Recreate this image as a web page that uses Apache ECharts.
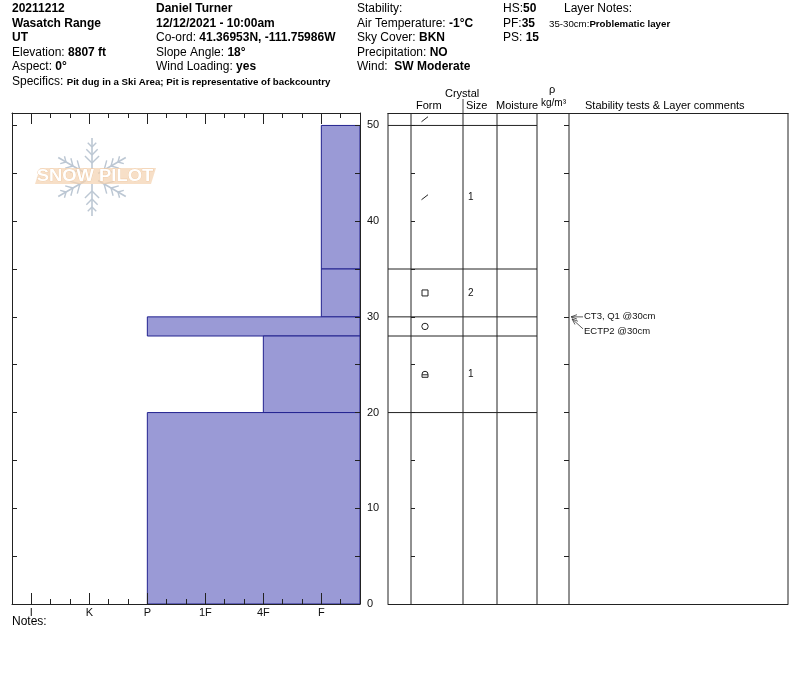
<!DOCTYPE html>
<html><head><meta charset="utf-8">
<script src="https://cdn.jsdelivr.net/npm/echarts@6/dist/echarts.min.js"></script>
<style>html,body{margin:0;padding:0;background:#fff}#c{width:800px;height:676px}</style>
</head><body><div id="c"></div>
<script>
// ---- data ----
const hardnessLabels = ['I','K','P','1F','4F','F'];
const hardnessTicks = [1,4,7,10,13,16];
const hardnessMinorTicks = [2,3,5,6,8,9,11,12,14,15,17];
const hardMax = 18;
const HS = 50;
const depthMax = 51.3;
const layerTop = [50,35,30,28,20];
const layerBottom = [35,30,28,20,0];
const layerHardness = ['F','F','P','4F','P'];
const layerForm = ['DF','FC','RG','FCxr',''];
const layerSize = ['1','2','','1',''];
const surfaceForm = 'DF';
const testDepth = [30,30];
const testLabel = ['CT3, Q1 @30cm','ECTP2 @30cm'];
const col1 = ['{b|20211212}','{b|Wasatch Range}','{b|UT}','Elevation: {b|8807 ft}','Aspect: {b|0°}'];
const col2 = ['{b|Daniel Turner}','{b|12/12/2021 - 10:00am}','Co-ord: {b|41.36953N, -111.75986W}','Slope Angle: {b|18°}','Wind Loading: {b|yes}'];
const col3 = ['Stability:','Air Temperature: {b|-1°C}','Sky Cover: {b|BKN}','Precipitation: {b|NO}','Wind:  {b|SW Moderate}'];
const col4 = ['HS:{b|50}','PF:{b|35}','PS: {b|15}'];
const specifics = 'Pit dug in a Ski Area; Pit is representative of backcountry';
const layerNote = ['35-30cm:','Problematic layer'];
const tableHeads = ['Form','Size','Moisture','Stability tests & Layer comments'];

// ---- layout ----
const FONT = '"Liberation Sans", Arial, sans-serif';
const tableCols = [0,23,75,109,149,181,400];
const LINE = '#222';

const chart = echarts.init(document.getElementById('c'));

function hardPos(h){ return hardnessTicks[hardnessLabels.indexOf(h)]; }

const barData = layerTop.map((t,i)=>[hardPos(layerHardness[i]), t, layerBottom[i]]);
const formData = layerTop.map((t,i)=>[(t+layerBottom[i])/2, i]).concat([[(HS+depthMax)/2, -1]]);

function renderBar(params, api){
  const p0 = api.coord([api.value(0), api.value(1)]);
  const p1 = api.coord([hardMax, api.value(2)]);
  return {type:'rect', shape:{x:p0[0], y:p0[1], width:p1[0]-p0[0], height:p1[1]-p0[1]},
    style:{fill:'#9a9ad6', stroke:'#22228f', lineWidth:1}};
}
function renderLayerLine(params, api){
  const d = api.value(0);
  const a = api.coord([tableCols[0], d]), b = api.coord([tableCols[4], d]);
  return {type:'line', shape:{x1:a[0], y1:a[1], x2:b[0], y2:b[1]}, style:{stroke:LINE, lineWidth:1}};
}
function renderCol(params, api){
  const c = api.value(0);
  const a = api.coord([c, 0]), b = api.coord([c, depthMax]);
  return {type:'line', shape:{x1:a[0], y1:a[1], x2:b[0], y2:b[1]}, style:{stroke:LINE, lineWidth:1}};
}
function formShape(code, cx, cy){
  const st = {stroke:'#222', fill:'none', lineWidth:1};
  if (code==='DF') return {type:'line', shape:{x1:cx-3.5,y1:cy+2.5,x2:cx+3,y2:cy-2.5}, style:st};
  if (code==='FC') return {type:'rect', shape:{x:cx-3,y:cy-3,width:6,height:6}, style:st};
  if (code==='RG') return {type:'circle', shape:{cx:cx, cy:cy, r:3.2}, style:st};
  if (code==='FCxr') return {type:'group', children:[
    {type:'rect', shape:{x:cx-3,y:cy-3,width:6,height:6,r:[3,3,0,0]}, style:st},
    {type:'line', shape:{x1:cx-3,y1:cy+0.5,x2:cx+3,y2:cy+0.5}, style:st}]};
  return null;
}
function renderForm(params, api){
  const d = api.value(0), i = api.value(1);
  const code = i < 0 ? surfaceForm : layerForm[i];
  const size = i < 0 ? '' : layerSize[i];
  const p = api.coord([37, d]);
  const q = api.coord([tableCols[2]+5, d]);
  const children = [];
  const s = formShape(code, p[0], p[1]);
  if (s) children.push(s);
  if (size) children.push({type:'text', x:q[0], y:q[1], style:{text:size, fill:'#111', font:'10px '+FONT, align:'left', verticalAlign:'middle', textAlign:'left', textVerticalAlign:'middle'}});
  return {type:'group', children};
}
function renderTest(params, api){
  const i = params.dataIndex;
  const p = api.coord([tableCols[5], api.value(1)]);
  const x = p[0], y = p[1];
  let from, to, ty;
  if (i === 0){ from=[x+14, y]; to=[x+2, y]; ty=y; }
  else { from=[x+14, y+12]; to=[x+3, y+2]; ty=y+15; }
  const dx = to[0]-from[0], dy = to[1]-from[1], L = Math.hypot(dx,dy);
  const ux = dx/L, uy = dy/L;
  const hx = to[0]-ux*6, hy = to[1]-uy*6;
  return {type:'group', children:[
    {type:'line', shape:{x1:from[0],y1:from[1],x2:to[0],y2:to[1]}, style:{stroke:'#333', lineWidth:0.8}},
    {type:'polyline', shape:{points:[[hx-uy*2.2, hy+ux*2.2],[to[0],to[1]],[hx+uy*2.2, hy-ux*2.2]]}, style:{stroke:'#333', fill:'none', lineWidth:0.8}},
    {type:'text', x:x+15, y:ty, style:{text:testLabel[i], fill:'#111', font:'9.5px '+FONT, align:'left', verticalAlign:'middle', textAlign:'left', textVerticalAlign:'middle'}}
  ]};
}

// header graphics
const graphics = [];
function txt(x, y, text, size){
  graphics.push({type:'text', x:x, y:y, silent:true, style:{text:text, fill:'#000', fontSize:size||12, fontFamily:FONT, verticalAlign:'middle', textVerticalAlign:'middle',
    rich:{b:{fontWeight:'bold', fontSize:size||12, fontFamily:FONT, fill:'#000'}, s:{fontWeight:'bold', fontSize:9.7, fontFamily:FONT, fill:'#000'}, r:{fontSize:9.7, fontFamily:FONT, fill:'#000'}}}});
}
const rowY = [9,24,38,53,67];
col1.forEach((t,i)=>txt(12,rowY[i],t));
col2.forEach((t,i)=>txt(156,rowY[i],t));
col3.forEach((t,i)=>txt(357,rowY[i],t));
col4.forEach((t,i)=>txt(503,rowY[i],t));
txt(12,82,'Specifics: {s|'+specifics+'}');
txt(564,9,'Layer Notes:');
txt(549,24,'{r|'+layerNote[0]+'}{s|'+layerNote[1]+'}');
txt(12,622,'Notes:');
// table header
txt(445,94,'Crystal',11);
txt(416,106,tableHeads[0],11);
txt(466,106,tableHeads[1],11);
txt(496,106,tableHeads[2],11);
txt(549,90,'ρ',11);
txt(541,103,'kg/m³',10);
txt(585,106,tableHeads[3],11);
graphics.push({type:'line', silent:true, shape:{x1:463,y1:99,x2:463,y2:113}, style:{stroke:'#444', lineWidth:1}});

// snowpilot logo
(function(){
  const cx=92, cy=177, R=39, col='#bcc7d3';
  const arms=[];
  for(let k=0;k<6;k++){
    const a = Math.PI/2 + k*Math.PI/3;
    const ux=Math.cos(a), uy=-Math.sin(a);
    arms.push({type:'line', shape:{x1:cx+ux*7,y1:cy+uy*7,x2:cx+ux*R,y2:cy+uy*R}, style:{stroke:col, lineWidth:1.6}});
    [14,22,30].forEach((r,j)=>{
      const bl = 10-j*2;
      [1,-1].forEach(sg=>{
        const b = a + sg*Math.PI/4;
        arms.push({type:'line', shape:{x1:cx+ux*r,y1:cy+uy*r,x2:cx+ux*r+Math.cos(b)*bl,y2:cy+uy*r-Math.sin(b)*bl}, style:{stroke:col, lineWidth:1.4}});
      });
    });
  }
  graphics.push({type:'group', silent:true, children:arms.concat([
    {type:'polygon', shape:{points:[[40,168],[156,168],[151,184],[35,184]]}, style:{fill:'rgba(243,210,175,0.7)'}},
    {type:'text', x:cx+3, y:176.5, scaleX:1.15, style:{text:'SNOW PILOT', fill:'#fff', stroke:'#ecc49c', lineWidth:0.6, font:'bold 16px '+FONT, align:'center', verticalAlign:'middle', textAlign:'center', textVerticalAlign:'middle'}}
  ])});
})();

const axisFont = {fontSize:11, fontFamily:FONT, color:'#111'};
const lineStyle = {color:LINE, width:1};
function axLine(show){ return {show:show, onZero:false, lineStyle}; }

const option = {
  animation:false,
  backgroundColor:'#fff',
  grid:[
    {left:12, top:113, width:348, height:491},
    {left:388, top:113, width:400, height:491}
  ],
  xAxis:[
    {gridIndex:0, type:'value', position:'bottom', min:0, max:hardMax, z:5,
      axisLine:axLine(true), splitLine:{show:false},
      axisTick:{show:true, inside:true, length:11, customValues:hardnessTicks, lineStyle},
      axisLabel:Object.assign({show:true, margin:3, customValues:hardnessTicks, formatter:v=>hardnessLabels[hardnessTicks.indexOf(v)]||''}, axisFont)},
    {gridIndex:0, type:'value', position:'bottom', min:0, max:hardMax, z:5,
      axisLine:axLine(false), splitLine:{show:false},
      axisTick:{show:true, inside:true, length:5, customValues:hardnessMinorTicks, lineStyle},
      axisLabel:{show:false}},
    {gridIndex:0, type:'value', position:'top', min:0, max:hardMax, z:5,
      axisLine:axLine(true), splitLine:{show:false},
      axisTick:{show:true, inside:true, length:11, customValues:hardnessTicks, lineStyle},
      axisLabel:{show:false}},
    {gridIndex:0, type:'value', position:'top', min:0, max:hardMax, z:5,
      axisLine:axLine(false), splitLine:{show:false},
      axisTick:{show:true, inside:true, length:5, customValues:hardnessMinorTicks, lineStyle},
      axisLabel:{show:false}},
    {gridIndex:1, type:'value', position:'bottom', min:0, max:400,
      axisLine:axLine(true), axisTick:{show:false}, axisLabel:{show:false}, splitLine:{show:false}},
    {gridIndex:1, type:'value', position:'top', min:0, max:400,
      axisLine:axLine(true), axisTick:{show:false}, axisLabel:{show:false}, splitLine:{show:false}}
  ],
  yAxis:[
    {gridIndex:0, type:'value', position:'right', min:0, max:depthMax, interval:5, z:5,
      axisLine:axLine(true), splitLine:{show:false},
      axisTick:{show:true, inside:true, length:5, lineStyle},
      axisLabel:Object.assign({show:true, margin:7, formatter:v=>(v%10===0 && v<=HS)?String(v):''}, axisFont)},
    {gridIndex:0, type:'value', position:'left', min:0, max:depthMax, interval:5, z:5,
      axisLine:axLine(true), splitLine:{show:false},
      axisTick:{show:true, inside:true, length:5, lineStyle}, axisLabel:{show:false}},
    {gridIndex:1, type:'value', position:'left', min:0, max:depthMax, interval:5,
      axisLine:axLine(false), splitLine:{show:false}, axisTick:{show:false}, axisLabel:{show:false}},
    {gridIndex:1, type:'value', position:'left', offset:-tableCols[1], min:0, max:depthMax, interval:5,
      axisLine:axLine(false), splitLine:{show:false},
      axisTick:{show:true, inside:true, length:4, lineStyle}, axisLabel:{show:false}},
    {gridIndex:1, type:'value', position:'left', offset:-tableCols[5], min:0, max:depthMax, interval:5,
      axisLine:axLine(false), splitLine:{show:false},
      axisTick:{show:true, inside:false, length:5, lineStyle}, axisLabel:{show:false}}
  ],
  series:[
    {type:'custom', name:'hardness', xAxisIndex:0, yAxisIndex:0, renderItem:renderBar, data:barData, silent:true, z:1},
    {type:'custom', name:'layers', xAxisIndex:4, yAxisIndex:2, renderItem:renderLayerLine,
      data:layerTop.map(t=>[t]), encode:{y:0}, silent:true},
    {type:'custom', name:'cols', xAxisIndex:4, yAxisIndex:2, renderItem:renderCol,
      data:tableCols.map(c=>[c]), encode:{x:0}, silent:true},
    {type:'custom', name:'forms', xAxisIndex:4, yAxisIndex:2, renderItem:renderForm,
      data:formData, encode:{y:0}, silent:true},
    {type:'custom', name:'tests', xAxisIndex:4, yAxisIndex:2, renderItem:renderTest,
      data:testDepth.map(d=>[tableCols[5], d]), silent:true}
  ],
  graphic:graphics
};
chart.setOption(option);
</script></body></html>
